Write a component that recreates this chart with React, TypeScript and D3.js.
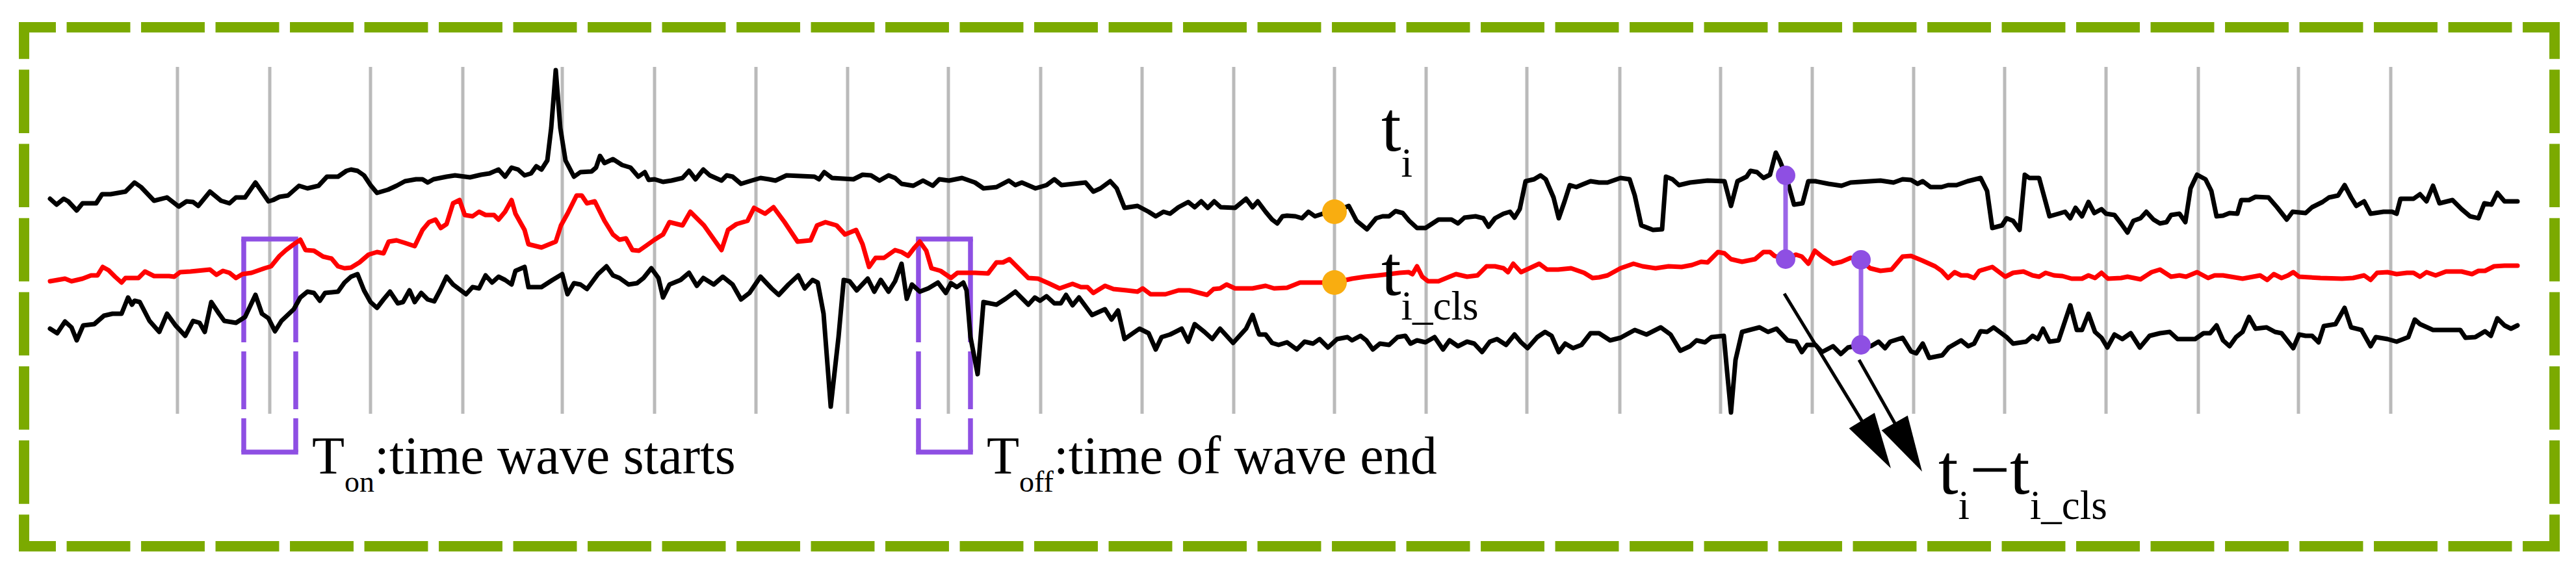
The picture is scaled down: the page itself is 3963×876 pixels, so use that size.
import React from "react";
import * as d3 from "d3";

type Pt = [number, number];

// time (ms) vs amplitude
const tiSeries: Pt[] = [
  [0,334],[10,325],[21,334],[28,330],[41,316],[50,327],[71,327],[80,341],[93,341],[116,345],[130,359],[140,352],[160,331],[180,336],[198,322],[210,330],[220,329],[228,323],[246,345],[263,331],[276,327],[286,336],[300,336],[316,359],[336,330],[343,332],[353,337],[366,339],[383,354],[396,350],[413,354],[426,368],[443,368],[456,377],
  [463,379],[473,377],[483,370],[493,355],[503,343],[520,348],[533,354],[546,361],[563,364],[573,364],[581,359],[590,364],[610,368],[623,370],[646,367],[663,371],[676,373],[690,379],[700,368],[710,382],[720,379],[730,370],[740,373],[748,384],[756,379],[765,393],[771,443],[778,532],[785,443],[793,393],[806,368],[816,375],[833,376],[840,382],[846,400],[853,389],[866,395],[880,386],[893,382],[905,368],[915,375],[921,363],[930,364],
  [943,360],[956,362],[973,366],[983,377],[993,364],[1005,379],[1015,370],[1033,362],[1041,370],[1050,368],[1063,357],[1076,361],[1093,366],[1106,364],[1116,362],[1133,370],[1176,368],[1183,364],[1191,375],[1203,366],[1236,364],[1250,371],[1263,370],[1276,362],[1290,370],[1300,366],[1310,357],[1328,354],[1343,362],[1358,354],[1368,364],[1383,362],[1403,366],
  [1423,359],[1436,350],[1456,352],[1475,362],[1485,355],[1495,359],[1516,350],[1533,355],[1545,364],[1556,355],[1593,359],[1605,345],[1616,350],[1631,361],[1641,350],[1653,320],[1673,323],[1690,314],[1701,307],[1713,314],[1723,311],[1736,321],[1751,329],[1761,321],[1771,330],[1781,320],[1791,330],[1801,321],[1823,320],[1840,334],[1850,321],[1858,330],[1870,314],[1880,302],[1888,296],[1896,307],
  [1903,308],[1916,307],[1926,304],[1936,314],[1946,307],[1958,311],[1976,314],[1998,323],[2010,300],[2026,287],[2040,304],[2050,307],[2060,307],[2070,315],[2081,312],[2091,300],[2103,289],[2116,289],[2136,302],[2156,302],[2166,296],[2176,305],[2193,307],[2205,304],[2213,291],[2223,304],[2236,311],[2246,314],[2253,305],[2261,318],[2270,361],[2283,364],[2293,370],[2301,364],[2313,336],[2321,304],[2330,330],[2338,355],[2348,352],[2360,357],[2370,361],
  [2383,359],[2396,359],[2416,366],[2430,364],[2438,339],[2448,293],[2466,286],[2480,287],[2486,368],[2496,364],[2506,355],[2523,359],[2550,362],[2576,361],[2586,323],[2596,361],[2610,368],[2616,377],[2626,375],[2636,366],[2646,371],[2655,405],[2661,393],[2670,370],[2676,350],[2683,325],[2696,327],[2705,361],[2716,361],[2736,357],[2756,354],[2770,359],[2800,361],[2816,362],[2836,359],[2850,364],
  [2863,363],[2873,357],[2881,361],[2893,352],[2910,352],[2920,355],[2933,355],[2950,361],[2970,366],[2980,346],[2988,289],[3003,293],[3010,304],[3020,300],[3030,286],[3038,371],[3045,366],[3060,366],[3076,307],[3090,311],[3100,314],[3108,304],[3116,320],[3126,307],[3136,329],[3145,312],[3156,318],[3163,311],[3176,309],[3186,296],[3196,282],[3205,300],[3216,304],[3225,314],[3236,302],[3246,296],[3256,298],[3263,309],[3276,311],[3285,298],[3293,350],[3303,371],[3316,364],[3325,346],[3333,307],
  [3343,308],[3353,312],[3365,311],[3371,332],[3383,332],[3393,337],[3413,336],[3426,321],[3441,302],[3450,314],[3470,312],[3480,321],[3496,329],[3506,336],[3520,339],[3530,355],[3540,336],[3548,323],[3560,330],[3570,311],[3590,314],[3603,314],[3610,311],[3616,334],[3636,334],[3646,341],[3656,330],[3666,354],[3676,327],[3696,332],[3710,318],[3723,307],[3736,304],[3745,327],[3756,325],[3765,343],[3776,330],[3796,330],
];

const tiClsSeries: Pt[] = [
  [0,207],[23,211],[33,207],[50,211],[63,216],[73,216],[81,229],[90,224],[100,214],[110,205],[116,212],[136,212],[146,222],[160,215],[183,215],[191,214],[200,221],[216,222],[246,225],[256,217],[266,223],[276,220],[286,212],[296,218],[310,220],[330,227],[340,230],[353,246],[363,255],[375,264],[385,271],[393,255],[406,254],[420,245],[433,242],[443,230],[453,227],
  [463,228],[476,236],[490,248],[503,252],[513,250],[521,268],[533,270],[546,266],[561,261],[573,286],[583,298],[593,302],[601,289],[610,295],[620,327],[630,332],[638,309],[650,307],[660,314],[670,309],[683,309],[690,302],[700,314],[710,332],[716,311],[730,286],[736,264],[756,259],[778,268],[786,293],[796,311],[810,339],[818,339],[826,327],[838,330],[853,300],[866,279],[876,271],[886,273],[896,255],[906,254],[916,261],[930,271],
  [943,279],[953,298],[973,293],[985,314],[1006,293],[1033,255],[1043,286],[1056,295],[1073,300],[1083,320],[1100,311],[1113,321],[1130,298],[1150,268],[1170,270],[1180,293],[1193,298],[1210,293],[1223,279],[1240,286],[1250,264],[1260,229],[1270,243],[1283,243],[1300,255],[1310,252],[1320,246],[1330,259],[1338,268],[1348,254],[1356,227],[1370,223],[1386,212],[1396,220],
  [1423,220],[1443,219],[1456,236],[1466,236],[1476,241],[1490,227],[1505,212],[1520,211],[1536,204],[1553,196],[1573,203],[1586,198],[1596,198],[1605,189],[1623,200],[1636,195],[1656,193],[1673,191],[1681,196],[1693,187],[1716,187],[1736,193],[1753,193],[1780,186],[1790,195],[1800,196],[1810,202],[1823,196],[1850,196],[1870,200],[1883,196],
  [1903,197],[1923,205],[1953,205],[1976,205],[2003,211],[2023,214],[2043,216],[2060,218],[2076,220],[2090,221],[2096,218],[2103,230],[2111,214],[2120,207],[2136,207],[2153,214],[2163,218],[2180,214],[2196,216],[2210,230],[2223,230],[2236,227],[2243,221],[2251,234],[2263,221],[2276,227],[2291,234],[2303,225],[2320,225],[2340,227],[2360,220],[2373,212],
  [2383,213],[2396,216],[2416,227],[2436,234],[2450,230],[2470,227],[2490,230],[2510,229],[2526,232],[2540,237],[2550,236],[2566,252],[2576,250],[2586,241],[2603,237],[2623,241],[2636,252],[2646,252],[2653,246],[2670,241],[2686,248],[2695,245],[2705,234],[2715,254],[2726,245],[2743,234],[2756,237],[2770,243],[2785,241],[2800,227],[2816,223],[2833,225],[2850,245],
  [2863,246],[2880,239],[2900,230],[2910,223],[2920,212],[2930,221],[2940,216],[2950,216],[2960,212],[2968,223],[2988,229],[2996,223],[3008,214],[3020,220],[3036,222],[3050,216],[3060,214],[3070,220],[3083,216],[3096,215],[3110,211],[3126,211],[3136,216],[3146,212],[3156,220],[3166,211],[3186,212],[3196,214],[3216,210],[3233,221],[3246,225],[3263,214],[3276,216],[3286,214],[3303,221],[3320,212],[3330,216],
  [3343,216],[3373,211],[3400,216],[3411,209],[3421,218],[3433,212],[3443,216],[3451,221],[3460,214],[3493,212],[3526,211],[3543,212],[3560,216],[3570,209],[3580,220],[3596,221],[3610,218],[3626,220],[3636,220],[3646,214],[3656,221],[3670,216],[3686,222],[3710,222],[3726,218],[3736,223],[3746,223],[3760,230],[3776,231],[3796,231],
];

const tiLowSeries: Pt[] = [
  [0,134],[11,127],[23,145],[33,136],[41,116],[51,139],[68,141],[83,154],[96,157],[110,157],[120,182],[126,171],[130,177],[138,175],[153,146],[168,129],[180,157],[193,139],[208,123],[220,146],[230,143],[238,129],[248,175],[260,157],[268,146],[286,143],[300,152],[316,186],[326,157],[336,150],[346,130],[356,146],[375,164],[385,182],[396,191],[406,189],[415,177],[423,189],[443,191],[453,205],
  [463,214],[473,218],[483,193],[493,175],[503,166],[513,179],[523,191],[535,173],[543,175],[553,193],[561,175],[571,189],[581,179],[591,176],[600,193],[610,214],[620,202],[640,187],[650,198],[660,196],[670,216],[680,205],[690,214],[700,209],[710,202],[716,223],[730,229],[736,198],[756,198],[773,209],[788,218],[796,187],[806,204],[816,202],[826,195],[843,218],[856,230],[866,216],[876,212],[890,202],[903,204],[913,212],[925,227],[936,212],
  [943,182],[953,202],[970,209],[983,220],[995,200],[1005,212],[1021,202],[1035,214],[1050,202],[1063,179],[1076,189],[1093,214],[1110,196],[1121,186],[1136,202],[1151,216],[1161,196],[1173,209],[1181,205],[1190,157],[1201,14],[1213,121],[1221,209],[1230,207],[1241,193],[1258,211],[1268,191],[1278,209],[1290,191],[1300,207],[1310,234],[1318,180],[1326,202],[1338,191],[1351,196],[1366,205],[1378,189],[1386,204],[1395,198],[1405,205],[1410,193],[1416,121],
  [1427,64],[1436,175],[1456,171],[1470,180],[1485,191],[1505,171],[1515,182],[1523,177],[1533,184],[1545,173],[1555,173],[1563,186],[1573,170],[1583,182],[1603,155],[1623,164],[1633,148],[1643,162],[1653,118],[1676,134],[1690,127],[1701,102],[1710,121],[1723,125],[1741,134],[1751,114],[1761,141],[1776,129],[1788,118],[1800,134],[1820,112],[1840,134],[1850,155],[1860,125],[1870,125],[1880,112],[1890,109],
  [1903,113],[1918,102],[1930,114],[1943,111],[1953,118],[1966,105],[1980,118],[1996,121],[2003,116],[2016,123],[2025,116],[2035,102],[2046,111],[2060,109],[2073,121],[2085,123],[2093,111],[2103,116],[2116,113],[2130,121],[2143,102],[2153,116],[2166,107],[2180,114],[2191,111],[2203,98],[2215,114],[2226,118],[2240,109],[2253,125],[2263,113],[2273,104],[2288,121],[2300,129],[2310,123],[2321,98],[2331,111],[2343,104],[2356,109],[2370,127],
  [2383,127],[2400,116],[2416,120],[2438,132],[2456,125],[2478,136],[2493,125],[2508,100],[2523,107],[2533,116],[2546,113],[2556,121],[2575,123],[2580,68],[2586,5],[2593,86],[2603,129],[2630,136],[2643,129],[2656,134],[2673,116],[2686,114],[2695,98],[2703,109],[2716,109],[2726,98],[2743,107],[2755,95],[2766,105],[2786,109],[2801,107],[2813,114],[2823,104],[2831,114],[2850,120],
  [2863,99],[2871,96],[2881,111],[2891,89],[2911,93],[2921,105],[2940,116],[2951,107],[2960,111],[2970,130],[2980,129],[2990,136],[3010,121],[3020,111],[3040,114],[3050,123],[3058,118],[3066,134],[3076,114],[3090,116],[3108,170],[3118,132],[3126,132],[3136,157],[3146,129],[3156,120],[3165,105],[3176,125],[3188,118],[3201,127],[3215,105],[3230,123],[3246,127],[3261,129],[3273,118],[3300,118],[3313,127],[3323,127],[3333,139],
  [3343,116],[3353,107],[3363,121],[3373,129],[3383,152],[3393,134],[3410,136],[3423,129],[3433,127],[3451,104],[3460,125],[3470,123],[3480,123],[3490,113],[3498,138],[3516,141],[3530,166],[3540,136],[3556,132],[3570,107],[3578,121],[3596,118],[3610,114],[3628,121],[3638,148],[3646,141],[3666,132],[3708,132],[3716,120],[3731,121],[3746,130],[3755,123],[3765,150],[3776,139],[3786,134],[3796,139],
];

// vertical grid (beat) times
const gridTimes = [196, 338, 493, 635, 788, 930, 1086, 1227, 1382, 1524, 1680, 1821, 1976, 2117, 2272, 2415, 2570, 2711, 2867, 3007, 3163, 3305, 3459, 3601];
const gridRange: [number, number] = [3, 537];

// annotations
const markTime = 1976;
const diffTimes = [2670, 2786];
const onBox: [number, number] = [298, 378];
const offBox: [number, number] = [1336, 1416];
const boxRange: [number, number] = [272, -56];
const arrows: [Pt, Pt][] = [
  [[2668, 188], [2832, -81]],
  [[2783, 86], [2880, -86]],
];

const W = 3963;
const H = 876;
const FONT = "'Liberation Serif', 'Times New Roman', serif";
const GREEN = "#7BAA00";
const PURPLE = "#8E4FE3";

function valueAt(series: Pt[], t: number): number {
  for (let i = 1; i < series.length; i++) {
    const [x0, y0] = series[i - 1];
    const [x1, y1] = series[i];
    if (t >= x0 && t <= x1) {
      return x1 === x0 ? y0 : y0 + ((t - x0) / (x1 - x0)) * (y1 - y0);
    }
  }
  return series[series.length - 1][1];
}

function DashedSide({ x1, y1, x2, y2, w }: { x1: number; y1: number; x2: number; y2: number; w: number }) {
  const L = Math.hypot(x2 - x1, y2 - y1);
  const ux = (x2 - x1) / L;
  const uy = (y2 - y1) / L;
  const n = Math.max(1, Math.round(L / 116));
  const p = L / n;
  const dash = p * 0.855;
  const gap = p - dash;
  return (
    <line
      x1={x1 - (ux * w) / 2}
      y1={y1 - (uy * w) / 2}
      x2={x2 + (ux * w) / 2}
      y2={y2 + (uy * w) / 2}
      stroke={GREEN}
      strokeWidth={w}
      strokeDasharray={`${dash} ${gap}`}
      strokeDashoffset={dash / 2 - w / 2}
    />
  );
}

export default function App() {
  const x = d3.scaleLinear().domain([0, 3800]).range([77, 3877]);
  const y = d3.scaleLinear().domain([0, 540]).range([640, 100]);
  const line = d3
    .line<Pt>()
    .x((d) => x(d[0]))
    .y((d) => y(d[1]));

  const box = (b: [number, number], key: string) => {
    const xl = x(b[0]);
    const xr = x(b[1]);
    const yt = y(boxRange[0]);
    const yb = y(boxRange[1]);
    const dashes = "159 14 89 14 200";
    return (
      <g key={key} stroke={PURPLE} strokeWidth={7.5} fill="none">
        <line x1={xl - 3.75} y1={yt} x2={xr + 3.75} y2={yt} />
        <line x1={xl - 3.75} y1={yb} x2={xr + 3.75} y2={yb} />
        <line x1={xl} y1={yt} x2={xl} y2={yb} strokeDasharray={dashes} />
        <line x1={xr} y1={yt} x2={xr} y2={yb} strokeDasharray={dashes} />
      </g>
    );
  };

  const arrowHead = (a: Pt, b: Pt) => {
    const ax = x(a[0]);
    const ay = y(a[1]);
    const bx = x(b[0]);
    const by = y(b[1]);
    const L = Math.hypot(bx - ax, by - ay);
    const ux = (bx - ax) / L;
    const uy = (by - ay) / L;
    const hl = 86;
    const hw = 23;
    const cx = bx - ux * hl;
    const cy = by - uy * hl;
    const nx = -uy;
    const ny = ux;
    return {
      lineEnd: [bx - ux * (hl - 10), by - uy * (hl - 10)],
      pts: `${bx},${by} ${cx + nx * hw},${cy + ny * hw} ${cx - nx * hw},${cy - ny * hw}`,
      start: [ax, ay],
    };
  };

  const bx0 = 37, by0 = 42, bx1 = 3930, by1 = 841, bw = 16;

  return (
    <svg
      width={W}
      height={H}
      viewBox={`0 0 ${W} ${H}`}
      style={{ position: "absolute", left: 0, top: 0, background: "#fff" }}
    >
      <rect x={0} y={0} width={W} height={H} fill="#fff" />
      <g stroke="#BABABA" strokeWidth={5}>
        {gridTimes.map((t) => (
          <line key={t} x1={x(t)} x2={x(t)} y1={y(gridRange[1])} y2={y(gridRange[0])} />
        ))}
      </g>

      {box(onBox, "on")}
      {box(offBox, "off")}

      <g fill="none" strokeWidth={7} strokeLinejoin="round" strokeLinecap="round">
        <path d={line(tiSeries) || ""} stroke="#000" />
        <path d={line(tiLowSeries) || ""} stroke="#000" />
        <path d={line(tiClsSeries) || ""} stroke="#FF0000" />
      </g>

      {/* orange markers */}
      <circle cx={x(markTime)} cy={y(valueAt(tiSeries, markTime))} r={19} fill="#F9AD10" />
      <circle cx={x(markTime)} cy={y(valueAt(tiClsSeries, markTime))} r={19} fill="#F9AD10" />

      {/* difference lollipops */}
      {[
        [tiSeries, tiClsSeries],
        [tiClsSeries, tiLowSeries],
      ].map(([s1, s2], i) => {
        const t = diffTimes[i];
        const ya = y(valueAt(s1 as Pt[], t));
        const yb = y(valueAt(s2 as Pt[], t));
        return (
          <g key={i}>
            <line x1={x(t)} x2={x(t)} y1={ya} y2={yb} stroke="#9B66E8" strokeWidth={7} />
            <circle cx={x(t)} cy={ya} r={15} fill={PURPLE} />
            <circle cx={x(t)} cy={yb} r={15} fill={PURPLE} />
          </g>
        );
      })}

      {/* arrows */}
      {arrows.map(([a, b], i) => {
        const h = arrowHead(a, b);
        return (
          <g key={i}>
            <line x1={h.start[0]} y1={h.start[1]} x2={h.lineEnd[0]} y2={h.lineEnd[1]} stroke="#000" strokeWidth={5} />
            <polygon points={h.pts} fill="#000" />
          </g>
        );
      })}

      {/* labels */}
      <g fontFamily={FONT} fill="#000">
        <text x={480} y={729} fontSize={82}>
          T<tspan dy={28} fontSize={46}>on</tspan>
          <tspan dy={-28}>:time wave starts</tspan>
        </text>
        <text x={1518} y={729} fontSize={82}>
          T<tspan dy={28} fontSize={46}>off</tspan>
          <tspan dy={-28}>:time of wave end</tspan>
        </text>
        <text x={2125} y={232} fontSize={110}>
          t<tspan dy={40} fontSize={63}>i</tspan>
        </text>
        <text x={2125} y={454} fontSize={110}>
          t<tspan dy={38} fontSize={63}>i_cls</tspan>
        </text>
        <text x={2982} y={760} fontSize={110}>
          t<tspan dy={39} fontSize={63}>i</tspan>
          <tspan dy={-39}>−t</tspan>
          <tspan dy={39} fontSize={63}>i_cls</tspan>
        </text>
      </g>

      {/* dashed frame */}
      <DashedSide x1={bx0} y1={by0} x2={bx1} y2={by0} w={bw} />
      <DashedSide x1={bx1} y1={by0} x2={bx1} y2={by1} w={bw} />
      <DashedSide x1={bx1} y1={by1} x2={bx0} y2={by1} w={bw} />
      <DashedSide x1={bx0} y1={by1} x2={bx0} y2={by0} w={bw} />
    </svg>
  );
}
